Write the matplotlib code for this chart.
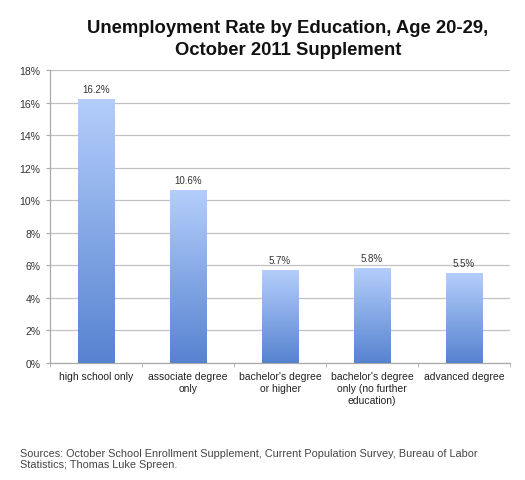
import matplotlib
matplotlib.use("Agg")
import matplotlib.pyplot as plt
import numpy as np
from matplotlib.colors import LinearSegmentedColormap
from matplotlib.ticker import FuncFormatter, FixedLocator

categories = ["high school only", "associate degree\nonly", "bachelor's degree\nor higher",
              "bachelor's degree\nonly (no further\neducation)", "advanced degree"]
values = [16.2, 10.6, 5.7, 5.8, 5.5]
yticks = [0, 2, 4, 6, 8, 10, 12, 14, 16, 18]
title_lines = ["Unemployment Rate by Education, Age 20-29,", "October 2011 Supplement"]
source_lines = ["Sources: October School Enrollment Supplement, Current Population Survey, Bureau of Labor",
                "Statistics; Thomas Luke Spreen."]

plt.rcParams['font.family'] = ['Liberation Sans', 'DejaVu Sans']

fig = plt.figure(figsize=(5.25, 4.81), dpi=100)
ax = fig.add_axes([50/525, 1-364/481, 460/525, (364-71)/481])

cmap = LinearSegmentedColormap.from_list("bg", ["#5683d0", "#b4cefb"])
x = np.arange(len(categories))
bars = ax.bar(x, values, width=0.4, color="none", edgecolor="none", zorder=3)
grad = np.linspace(0, 1, 256).reshape(-1, 1)
for b in bars:
    x0 = b.get_x(); w = b.get_width(); h = b.get_height()
    ax.imshow(grad, extent=[x0, x0 + w, 0, h], origin="lower", aspect="auto",
              cmap=cmap, zorder=3, interpolation="bicubic")
    ax.text(x0 + w/2, h + 0.35, f"{h:.1f}%", ha="center", va="bottom",
            fontsize=7, color="#333333", zorder=4)

ax.set_xlim(-0.5, len(categories) - 0.5)
ax.set_ylim(0, 18)
ax.set_yticks(yticks)
ax.yaxis.set_major_formatter(FuncFormatter(lambda v, p: f"{v:.0f}%"))
ax.grid(axis="y", color="#c2c2c2", linewidth=0.9, zorder=0)
ax.set_axisbelow(True)

ax.set_xticks(x)
ax.set_xticklabels(categories, fontsize=7.5, color="#222222", linespacing=1.2)
ax.tick_params(axis="x", which="major", length=0, pad=6)
ax.xaxis.set_minor_locator(FixedLocator(np.arange(-0.5, len(categories), 1.0)))
ax.tick_params(axis="x", which="minor", length=3, color="#aaaaaa", direction="out")
ax.tick_params(axis="y", length=3, color="#aaaaaa", labelsize=7.5, labelcolor="#333333", pad=4)

for s in ["top", "right"]:
    ax.spines[s].set_visible(False)
ax.spines["left"].set_color("#aaaaaa")
ax.spines["bottom"].set_color("#aaaaaa")
ax.spines["left"].set_linewidth(0.9)
ax.spines["bottom"].set_linewidth(0.9)

for line, yb in zip(title_lines, [33, 55]):
    fig.text(288/525, 1-yb/481, line, ha="center", va="baseline",
             fontsize=13.3, fontweight="bold", color="#111111")

for line, yc in zip(source_lines, [454, 465.5]):
    fig.text(20/525, 1-yc/481, line, ha="left", va="center", fontsize=7.85, color="#444444")

fig.savefig("out.png", dpi=100)
